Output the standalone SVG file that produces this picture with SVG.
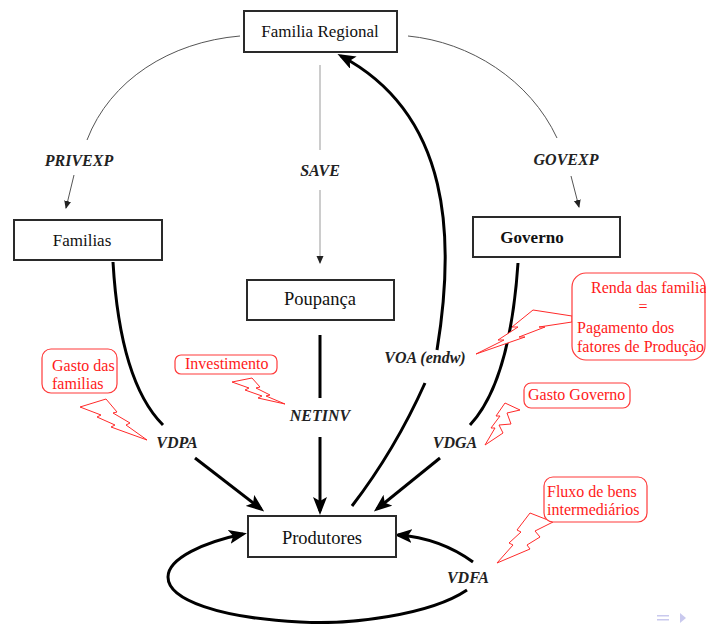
<svg xmlns="http://www.w3.org/2000/svg" width="706" height="624" viewBox="0 0 706 624">
  <style>
    .box { fill: #ffffff; stroke: #2a2a2a; stroke-width: 2; }
    .node { font-family: "Liberation Serif", "Times New Roman", serif; fill: #111; text-anchor: middle; }
    .lbl { font-family: "Liberation Serif", "Times New Roman", serif; font-size: 16px; font-weight: bold; font-style: italic; fill: #222; text-anchor: middle; }
    .thin { fill: none; stroke: #555; stroke-width: 1; }
    .save { fill: none; stroke: #aaa; stroke-width: 1.2; }
    .thick { fill: none; stroke: #000; stroke-width: 3; }
    .note { fill: #ffffff; stroke: #ff3a3a; stroke-width: 1.2; }
    .bolt { fill: #ffffff; stroke: #ff2a2a; stroke-width: 1; stroke-linejoin: miter; }
    .ntxt { font-family: "Liberation Serif", "Times New Roman", serif; font-size: 16px; fill: #ff1a1a; }
    .nav { fill: #c9c9ee; }
  </style>
  <defs>
    <marker id="big" markerUnits="userSpaceOnUse" markerWidth="18" markerHeight="14" viewBox="0 0 18 14" refX="14" refY="7" orient="auto">
      <path d="M0,0 L18,7 L0,14 L4,7 z" fill="#000"/>
    </marker>
    <marker id="small" markerUnits="userSpaceOnUse" markerWidth="8" markerHeight="8" viewBox="0 0 8 8" refX="7" refY="4" orient="auto">
      <path d="M0,0.5 L8,4 L0,7.5 z" fill="#222"/>
    </marker>
  </defs>

  <!-- flows -->
  <g id="connectors">
    <!-- household income split -->
    <path class="thin" d="M240,36 C170,42 110,80 87,140"/>
    <path class="thin" d="M74,175 L66,208" marker-end="url(#small)"/>
    <path class="thin" d="M408,36 C470,42 530,80 557,138"/>
    <path class="thin" d="M571,176 L579,207" marker-end="url(#small)"/>
    <path class="save" d="M320,65 L320,150"/>
    <path class="save" d="M320,190 L320,263" marker-end="url(#small)"/>

    <!-- factor payments back to the regional household -->
    <path class="thick" d="M352,506 Q395,450 425,383"/>
    <path class="thick" d="M437,350 C455,240 452,115 341,56" marker-end="url(#big)"/>

    <!-- purchases from producers -->
    <path class="thick" d="M113,262 Q120,382 163,425"/>
    <path class="thick" d="M195,458 L261,509" marker-end="url(#big)"/>
    <path class="thick" d="M320,335 L320,398"/>
    <path class="thick" d="M320,437 L320,511" marker-end="url(#big)"/>
    <path class="thick" d="M518,263 Q510,382 470,425"/>
    <path class="thick" d="M440,458 L377,509" marker-end="url(#big)"/>

    <!-- intermediate flows loop -->
    <path class="thick" d="M473,562 Q440,538 398,535" marker-end="url(#big)"/>
    <path class="thick" d="M467,590 C430,615 350,625 300,622 C220,618 168,600 168,577 C168,558 205,542 243,534" marker-end="url(#big)"/>
  </g>

  <!-- flow labels -->
  <g id="labels">
    <text class="lbl" x="79" y="166">PRIVEXP</text>
    <text class="lbl" x="566" y="165">GOVEXP</text>
    <text class="lbl" x="320" y="176">SAVE</text>
    <text class="lbl" x="425" y="363">VOA (endw)</text>
    <text class="lbl" x="177" y="448">VDPA</text>
    <text class="lbl" x="320" y="421">NETINV</text>
    <text class="lbl" x="455" y="448">VDGA</text>
    <text class="lbl" x="468" y="583">VDFA</text>
  </g>

  <g id="familia-regional">
    <rect class="box" x="244" y="11" width="153" height="41"/>
    <text class="node" x="320" y="37" font-size="17">Familia Regional</text>
  </g>
  <g id="familias">
    <rect class="box" x="14" y="220" width="148" height="40"/>
    <text class="node" x="82" y="246" font-size="17">Familias</text>
  </g>
  <g id="governo">
    <rect class="box" x="473" y="217" width="147" height="40"/>
    <text class="node" x="532" y="243" font-size="17" font-weight="bold">Governo</text>
  </g>
  <g id="poupanca">
    <rect class="box" x="247" y="280" width="147" height="40"/>
    <text class="node" x="320" y="305" font-size="18.5">Poupança</text>
  </g>
  <g id="produtores">
    <rect class="box" x="248" y="516" width="148" height="41"/>
    <text class="node" x="322" y="544" font-size="18.5">Produtores</text>
  </g>

  <!-- red callouts -->
  <g id="nota-gasto-familias">
    <polygon class="bolt" points="80,407 106,399 117,412 113,413 130,423 126,425 147,440 111,427 115,425 97,417 101,415"/>
    <rect class="note" x="42" y="349" width="75" height="44" rx="9"/>
    <text class="ntxt" x="52" y="371">Gasto das</text>
    <text class="ntxt" x="52" y="389">familias</text>
  </g>
  <g id="nota-investimento">
    <polygon class="bolt" points="232,382 252,378 260,387 256,388 270,395 266,396 285,404 258,398 262,396 245,390 249,388"/>
    <rect class="note" x="175" y="355" width="102" height="19" rx="6"/>
    <text class="ntxt" x="185" y="369">Investimento</text>
  </g>
  <g id="nota-renda">
    <polygon class="bolt" points="572,316 533,310 512,327 518,327 498,340 504,340 476,354 525,337 519,337 545,327 539,327 572,322"/>
    <rect class="note" x="572" y="273" width="133" height="87" rx="14"/>
    <text class="ntxt" x="591" y="293">Renda das familia</text>
    <text class="ntxt" x="643" y="312" text-anchor="middle">=</text>
    <text class="ntxt" x="577" y="333">Pagamento dos</text>
    <text class="ntxt" x="577" y="352">fatores de Produção</text>
  </g>
  <g id="nota-gasto-governo">
    <polygon class="bolt" points="505,403 520,410 507,413 511,424 499,425 503,433 485,445 495,428 491,428 500,416 496,416"/>
    <rect class="note" x="524" y="383" width="106" height="25" rx="7"/>
    <text class="ntxt" x="528" y="400">Gasto Governo</text>
  </g>
  <g id="nota-fluxo">
    <polygon class="bolt" points="530,513 553,522 535,531 540,537 527,545 530,549 497,563 513,545 509,543 521,532 517,530"/>
    <rect class="note" x="544" y="477" width="103" height="45" rx="9"/>
    <text class="ntxt" x="547" y="497">Fluxo de bens</text>
    <text class="ntxt" x="547" y="515">intermediários</text>
  </g>

  <!-- navigation marks -->
  <g id="nav">
    <rect class="nav" x="657" y="615" width="12" height="1.5"/>
    <rect class="nav" x="657" y="619" width="12" height="1.5"/>
    <polygon class="nav" points="680,613 686,618 680,623"/>
  </g>
</svg>
